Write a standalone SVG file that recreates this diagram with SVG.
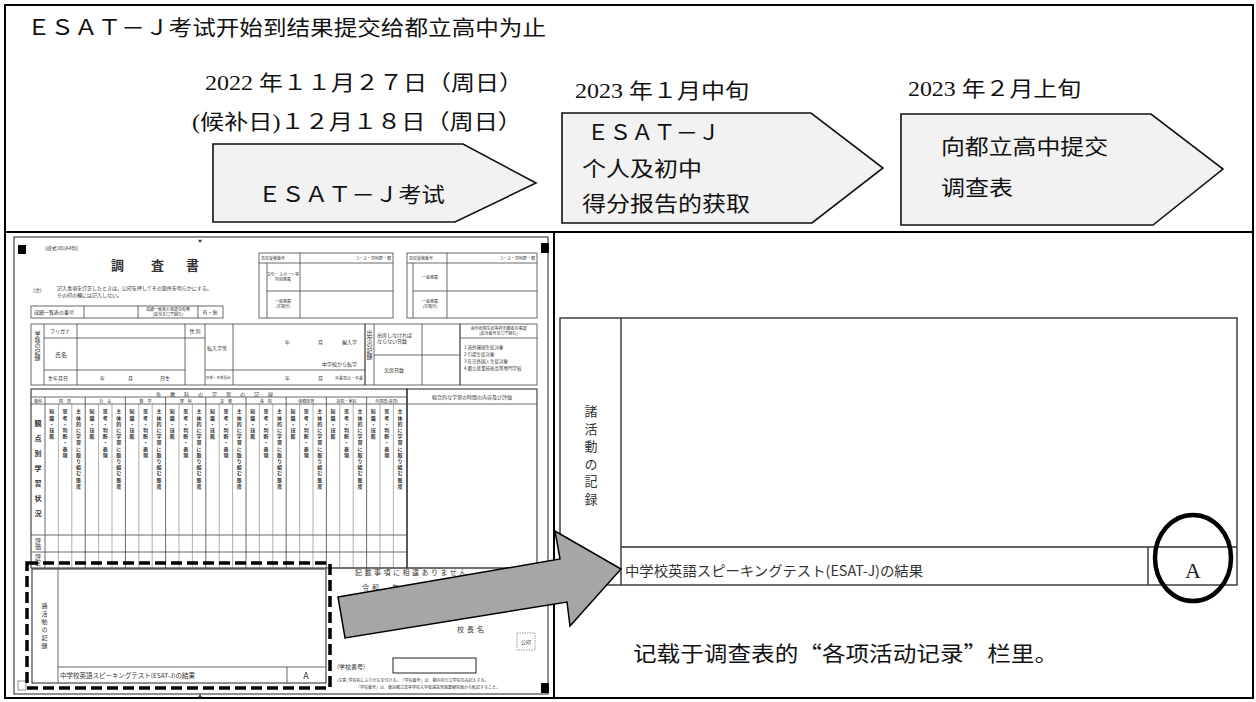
<svg xmlns="http://www.w3.org/2000/svg" width="1256" height="702" viewBox="0 0 1256 702">
<style>
.frame{fill:none;stroke:#000;stroke-width:2}
.pent{fill:#f2f2f2;stroke:#111;stroke-width:1.6}
.t{font-family:"Liberation Serif","Noto Sans CJK SC",serif;fill:#111;font-size:21px}
.cn{font-family:"Noto Sans CJK SC",sans-serif;fill:#111;font-size:21px}
.jp{font-family:"Noto Sans CJK JP",sans-serif;fill:#333}
.fl{fill:none;stroke:#444;stroke-width:0.8}
.fk{fill:none;stroke:#222;stroke-width:1}
.fg{fill:none;stroke:#777;stroke-width:0.6}
.blk{fill:#000}
.vt{writing-mode:vertical-rl}
.s4{font-size:4px}.s5{font-size:5px}.s6{font-size:6px}.s7{font-size:7px}
.mid{text-anchor:middle}
.tbl{fill:none;stroke:#333;stroke-width:1.4}
</style>

<g id="frame">
<rect x="5" y="5" width="1248" height="693" class="frame"/>
<line x1="5" y1="232" x2="1253" y2="232" class="frame"/>
<line x1="554" y1="232" x2="554" y2="698" class="frame" stroke-width="1.6"/>
</g>

<g id="title">
<text x="27" y="35" class="cn" textLength="519" lengthAdjust="spacingAndGlyphs">ＥＳＡＴ－Ｊ考试开始到结果提交给都立高中为止</text>
</g>

<g id="dates">
<text x="205" y="90" class="t" textLength="318" lengthAdjust="spacingAndGlyphs">2022 年１１月２７日（周日）</text>
<text x="192" y="129" class="t" textLength="330" lengthAdjust="spacingAndGlyphs">(候补日)１２月１８日（周日）</text>
<text x="575" y="98" class="t" textLength="174" lengthAdjust="spacingAndGlyphs">2023 年１月中旬</text>
<text x="908" y="96" class="t" textLength="173" lengthAdjust="spacingAndGlyphs">2023 年２月上旬</text>
</g>

<g id="node-exam">
<polygon points="213,144 463,144 536,183 455,222 213,222" class="pent"/>
<text x="258" y="202" class="cn" textLength="187" lengthAdjust="spacingAndGlyphs">ＥＳＡＴ－Ｊ考试</text>
</g>

<g id="node-report">
<polygon points="562,113 811,113 883,168 812,223 562,223" class="pent"/>
<text x="587" y="140" class="cn" textLength="133" lengthAdjust="spacingAndGlyphs">ＥＳＡＴ－Ｊ</text>
<text x="582" y="176" class="cn" textLength="120" lengthAdjust="spacingAndGlyphs">个人及初中</text>
<text x="582" y="211" class="cn" textLength="168" lengthAdjust="spacingAndGlyphs">得分报告的获取</text>
</g>

<g id="node-submit">
<polygon points="901,114 1151,114 1223,169 1153,225 901,225" class="pent"/>
<text x="941" y="154" class="cn" textLength="167" lengthAdjust="spacingAndGlyphs">向都立高中提交</text>
<text x="941" y="195" class="cn" textLength="72" lengthAdjust="spacingAndGlyphs">调查表</text>
</g>

<g id="form-chousasho">
<rect x="14" y="237" width="534" height="457" class="fk"/>
<rect x="18" y="245" width="8" height="9" class="blk"/>
<rect x="541" y="243" width="8" height="10" class="blk"/>
<rect x="541" y="683" width="8" height="10" class="blk"/>
<rect x="18" y="681" width="8" height="9" fill="#fff" stroke="#777" stroke-width="0.8"/>
<text x="200" y="243" class="jp s4 mid">▼</text>
<text x="200" y="698" class="jp s4 mid">▲</text>
<text x="45" y="250" class="jp s5">(様式10)(A4判)</text>
<text x="111" y="270" class="jp" font-size="13" font-weight="bold" fill="#222">調</text>
<text x="151" y="270" class="jp" font-size="13" font-weight="bold" fill="#222">査</text>
<text x="186" y="270" class="jp" font-size="13" font-weight="bold" fill="#222">書</text>
<text x="33" y="292" class="jp s5">(注)</text>
<text x="57" y="290" class="jp s5">記入事項を訂正したときは、公印を押してその箇所を明らかにする。</text>
<text x="57" y="297" class="jp s5">※の印の欄には記入しない。</text>

<rect x="31" y="306" width="192" height="12" class="fl"/>
<path d="M84 306V318M138 306V318M198 306V318" class="fl"/>
<text x="34" y="314" class="jp s5">成績一覧表の番号</text>
<text x="168" y="311" class="jp s4 mid">成績一覧表と相違の有無</text>
<text x="168" y="316" class="jp s4 mid">(該当を〇で囲む)</text>
<text x="210" y="314" class="jp s5 mid">有・無</text>

<rect x="259" y="253" width="134" height="65" class="fl"/>
<path d="M259 263H393M300 253V318M267 263V318M267 291H393" class="fl"/>
<text x="261" y="260" class="jp s4">高校受検番号</text>
<text x="391" y="260" class="jp s4" text-anchor="end">コース・学科群・類</text>
<text x="283" y="276" class="jp s4 mid">文化・スポーツ等</text>
<text x="283" y="281" class="jp s4 mid">特別推薦</text>
<text x="283" y="303" class="jp s4 mid">一般推薦</text>
<text x="283" y="308" class="jp s4 mid">(定員分)</text>
<rect x="407" y="253" width="130" height="65" class="fl"/>
<path d="M407 263H537M447 253V318M413 263V318M413 291H537" class="fl"/>
<text x="409" y="260" class="jp s4">高校受検番号</text>
<text x="535" y="260" class="jp s4" text-anchor="end">コース・学科群・類</text>
<text x="430" y="279" class="jp s4 mid">一般推薦</text>
<text x="430" y="303" class="jp s4 mid">一般推薦</text>
<text x="430" y="308" class="jp s4 mid">(定員分)</text>

<rect x="31" y="324" width="334" height="61" class="fl"/>
<path d="M44 324V385M77 324V385M185 324V385M205 324V385M233 324V385M44 338H185M44 370H185M185 338H205M205 370H365" class="fl"/>
<text x="37.5" y="331" class="jp s6 vt">学籍の記録</text>
<text x="50" y="333" class="jp s5">フリガナ</text>
<text x="55" y="357" class="jp s6">氏名</text>
<text x="48" y="380" class="jp s5">生年月日</text>
<text x="100" y="380" class="jp s5">年</text>
<text x="128" y="380" class="jp s5">月</text>
<text x="160" y="380" class="jp s5">日生</text>
<text x="195" y="333" class="jp s5 mid">性 別</text>
<text x="207" y="350" class="jp s5">転入学等</text>
<text x="206" y="379" class="jp" font-size="3.5">卒業・卒業見込</text>
<text x="285" y="344" class="jp s5">年</text>
<text x="318" y="344" class="jp s5">月</text>
<text x="342" y="344" class="jp s5">編入学</text>
<text x="322" y="366" class="jp s5">中学校から転学</text>
<text x="285" y="380" class="jp s5">年</text>
<text x="318" y="380" class="jp s5">月</text>
<text x="335" y="380" class="jp s4">卒業見込・卒業</text>

<rect x="365" y="324" width="95" height="61" class="fl"/>
<path d="M374 324V385M422 324V385M374 355H460" class="fl"/>
<text x="369.5" y="330" class="jp s6 vt">出欠の記録</text>
<text x="377" y="337" class="jp s5">出席しなければ</text>
<text x="377" y="343" class="jp s5">ならない日数</text>
<text x="384" y="372" class="jp s5">欠席日数</text>
<rect x="460" y="324" width="77" height="61" class="fl"/>
<path d="M460 338H537" class="fl"/>
<text x="498.5" y="330" class="jp s4 mid">海外帰国生徒等枠志願者の事項</text>
<text x="498.5" y="335" class="jp s4 mid">(該当番号を〇で囲む)</text>
<text x="464" y="349" class="jp" font-size="4.5">1 海外帰国生徒対象</text>
<text x="464" y="356" class="jp" font-size="4.5">2 引揚生徒対象</text>
<text x="464" y="363" class="jp" font-size="4.5">3 在京外国人生徒対象</text>
<text x="464" y="370" class="jp" font-size="4.5">4 都立産業技術高等専門学校</text>

<rect x="31" y="389" width="376" height="179" class="fk"/>
<path d="M31 397H407M31 404H407M31 535H407M31 552H407M45 397V568" class="fl"/>
<path d="M85.2 397V568M125.4 397V568M165.6 397V568M205.8 397V568M246 397V568M286.2 397V568M326.4 397V568M366.6 397V568" class="fl"/>
<path d="M58.4 404V568M71.8 404V568M98.6 404V568M112 404V568M138.8 404V568M152.2 404V568M179 404V568M192.4 404V568M219.2 404V568M232.6 404V568M259.4 404V568M272.8 404V568M299.6 404V568M313 404V568M339.8 404V568M353.2 404V568M380 404V568M393.4 404V568" class="fg"/>
<text x="219" y="395.5" class="jp s5 mid" letter-spacing="9">各教科の学習の記録</text>
<text x="38" y="402.5" class="jp s4 mid">教科</text>
<g class="jp s4 mid">
<text x="65.1" y="402.5">国　語</text><text x="105.3" y="402.5">社　会</text><text x="145.5" y="402.5">数　学</text>
<text x="185.7" y="402.5">理　科</text><text x="225.9" y="402.5">音　楽</text><text x="266.1" y="402.5">美　術</text>
<text x="306.3" y="402.5">保健体育</text><text x="346.5" y="402.5">技術・家庭</text><text x="386.7" y="402.5">外国語(英語)</text>
</g>
<text x="38" y="420" class="jp s7 vt" letter-spacing="8" font-weight="bold">観点別学習状況</text>
<text x="38" y="538" class="jp s6 vt">評価</text>
<text x="38" y="554" class="jp s6 vt">評定</text>
<g class="jp s5 vt" letter-spacing="1.2" font-weight="bold">
<text x="51.7" y="409">知識・技能</text><text x="65.1" y="409">思考・判断・表現</text><text x="78.5" y="409">主体的に学習に取り組む態度</text>
<text x="91.9" y="409">知識・技能</text><text x="105.3" y="409">思考・判断・表現</text><text x="118.7" y="409">主体的に学習に取り組む態度</text>
<text x="132.1" y="409">知識・技能</text><text x="145.5" y="409">思考・判断・表現</text><text x="158.9" y="409">主体的に学習に取り組む態度</text>
<text x="172.3" y="409">知識・技能</text><text x="185.7" y="409">思考・判断・表現</text><text x="199.1" y="409">主体的に学習に取り組む態度</text>
<text x="212.5" y="409">知識・技能</text><text x="225.9" y="409">思考・判断・表現</text><text x="239.3" y="409">主体的に学習に取り組む態度</text>
<text x="252.7" y="409">知識・技能</text><text x="266.1" y="409">思考・判断・表現</text><text x="279.5" y="409">主体的に学習に取り組む態度</text>
<text x="292.9" y="409">知識・技能</text><text x="306.3" y="409">思考・判断・表現</text><text x="319.7" y="409">主体的に学習に取り組む態度</text>
<text x="333.1" y="409">知識・技能</text><text x="346.5" y="409">思考・判断・表現</text><text x="359.9" y="409">主体的に学習に取り組む態度</text>
<text x="373.3" y="409">知識・技能</text><text x="386.7" y="409">思考・判断・表現</text><text x="400.1" y="409">主体的に学習に取り組む態度</text>
</g>
<rect x="407" y="389" width="130" height="179" class="fk"/>
<path d="M407 404H537" class="fl"/>
<text x="472" y="399" class="jp s5 mid">総合的な学習の時間の内容及び評価</text>
<path d="M330 568H537" class="fl"/>

<rect x="32" y="569" width="294" height="114" class="fk"/>
<path d="M58 569V683M58 667H326M287 667V683" class="fl"/>
<text x="44.5" y="603" class="jp s6 vt" letter-spacing="2">諸活動の記録</text>
<text x="60" y="678" class="jp" font-size="6.5">中学校英語スピーキングテスト(ESAT-J)の結果</text>
<text x="306" y="679" class="jp mid" font-size="9" fill="#222">A</text>
<rect x="27" y="563" width="303" height="125" fill="none" stroke="#000" stroke-width="3.5" stroke-dasharray="11 5"/>

<text x="355" y="575" class="jp s7" letter-spacing="2.5">記載事項に相違ありません。</text>
<text x="362" y="590" class="jp s7" letter-spacing="3">令和　年　月　日</text>
<text x="457" y="632" class="jp s7" letter-spacing="3">校長名</text>
<rect x="517" y="633" width="18" height="17" fill="none" stroke="#555" stroke-width="0.6" stroke-dasharray="1.5 1"/>
<text x="526" y="644" class="jp s5 mid">公印</text>
<text x="337" y="669" class="jp s6">(学校番号)</text>
<rect x="393" y="658" width="83" height="15" class="fk"/>
<text x="337" y="682" class="jp" font-size="4">(注意) 学校名にふりがなを付ける。「学校番号」は、都内の公立学校のみ記入する。</text>
<text x="356" y="689" class="jp" font-size="4">「学校番号」は、東京都立高等学校入学者選抜実施要綱別表から転記すること。</text>
</g>

<g id="node-record-enlarged">
<rect x="560" y="318" width="677" height="267" class="tbl"/>
<path d="M621 318V585M621 547H1237M1148 547V585" class="tbl"/>
<text x="591" y="405" class="jp vt" font-size="13" fill="#555" letter-spacing="4.5">諸活動の記録</text>
<text x="625" y="576" class="jp" font-size="14" fill="#444" textLength="298" lengthAdjust="spacingAndGlyphs">中学校英語スピーキングテスト(ESAT-J)の結果</text>
<text x="1193" y="578" font-family="Liberation Serif, serif" font-size="22" fill="#222" text-anchor="middle">A</text>
<ellipse cx="1193" cy="558" rx="38" ry="43" fill="none" stroke="#000" stroke-width="4.5"/>
</g>

<g id="connectors">
<polygon points="338,597 560,559 555,531 621,569 570,626 567,602 345,638" fill="#a6a6a6" stroke="#000" stroke-width="1.5" stroke-linejoin="miter"/>
</g>

<g id="caption">
<text x="633" y="661" class="cn" font-size="22" textLength="425" lengthAdjust="spacingAndGlyphs">记载于调查表的“各项活动记录”栏里。</text>
</g>
</svg>
